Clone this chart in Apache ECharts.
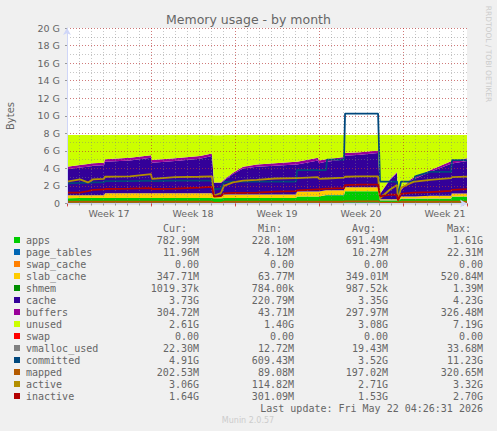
<!DOCTYPE html>
<html>
<head>
<meta charset="utf-8">
<script src="https://cdn.jsdelivr.net/npm/echarts@6/dist/echarts.min.js"></script>
<style>
  html, body { margin: 0; padding: 0; background: #F0F0F0; }
  #chart { width: 497px; height: 431px; }
</style>
</head>
<body>
<div id="chart"></div>
<script>
// time in days since Monday of week 17
const days = [0, 1.08, 1.75, 2.17, 3.08, 3.17, 5.25, 7.0, 7.08, 9.0, 11.08, 12.08, 12.25, 12.83, 13.08, 13.83, 14.67, 15.83, 17.33, 19.08, 19.17, 20.92, 21.0, 21.58, 21.67, 23.08, 23.17, 24.42, 25.92, 26.08, 26.92, 27.5, 27.58, 27.83, 28.58, 28.92, 29.0, 30.25, 32.0, 32.08, 33.33];
const weekLabels = ['Week 17', 'Week 18', 'Week 19', 'Week 20', 'Week 21'];
const yTickLabels = ['0', '2 G', '4 G', '6 G', '8 G', '10 G', '12 G', '14 G', '16 G', '18 G', '20 G'];

// values in GB
const apps = [0.60, 0.62, 0.62, 0.62, 0.62, 0.62, 0.62, 0.62, 0.62, 0.62, 0.62, 0.62, 0.60, 0.60, 0.62, 0.62, 0.62, 0.62, 0.62, 0.62, 0.80, 0.80, 0.80, 0.95, 0.95, 0.95, 1.40, 1.40, 1.40, 0.35, 0.35, 0.35, 0.25, 0.55, 0.55, 0.55, 0.55, 0.55, 0.55, 0.78, 0.78];
const pageTables = [0.01, 0.01, 0.01, 0.01, 0.01, 0.01, 0.01, 0.01, 0.01, 0.01, 0.01, 0.01, 0.01, 0.01, 0.01, 0.01, 0.01, 0.01, 0.01, 0.01, 0.01, 0.01, 0.01, 0.01, 0.01, 0.01, 0.01, 0.01, 0.01, 0.01, 0.01, 0.01, 0.01, 0.01, 0.01, 0.01, 0.01, 0.01, 0.01, 0.01, 0.01];
const swapCache = [0, 0, 0, 0, 0, 0, 0, 0, 0, 0, 0, 0, 0, 0, 0, 0, 0, 0, 0, 0, 0, 0, 0, 0, 0, 0, 0, 0, 0, 0, 0, 0, 0, 0, 0, 0, 0, 0, 0, 0, 0];
const slabCache = [0.32, 0.32, 0.32, 0.32, 0.32, 0.55, 0.55, 0.55, 0.55, 0.55, 0.55, 0.55, 0.15, 0.15, 0.40, 0.40, 0.40, 0.40, 0.40, 0.40, 0.55, 0.55, 0.55, 0.55, 0.55, 0.55, 0.45, 0.45, 0.45, 0.12, 0.12, 0.12, 0.08, 0.25, 0.25, 0.25, 0.25, 0.32, 0.32, 0.35, 0.35];
const shmem = [0.001, 0.001, 0.001, 0.001, 0.001, 0.001, 0.001, 0.001, 0.001, 0.001, 0.001, 0.001, 0.001, 0.001, 0.001, 0.001, 0.001, 0.001, 0.001, 0.001, 0.001, 0.001, 0.001, 0.001, 0.001, 0.001, 0.001, 0.001, 0.001, 0.001, 0.001, 0.001, 0.001, 0.001, 0.001, 0.001, 0.001, 0.001, 0.001, 0.001, 0.001];
const cache = [2.97, 3.15, 3.25, 3.35, 3.40, 3.57, 3.72, 4.02, 3.47, 3.67, 3.92, 4.22, 1.57, 1.57, 1.57, 2.32, 2.97, 3.17, 3.27, 3.42, 3.09, 3.54, 3.24, 3.24, 3.24, 3.49, 3.59, 3.69, 3.89, 0.57, 2.22, 2.97, 0.51, 0.71, 1.74, 2.01, 2.01, 2.70, 3.64, 3.43, 3.71];
const buffers = [0.30, 0.30, 0.30, 0.30, 0.30, 0.30, 0.30, 0.30, 0.30, 0.30, 0.30, 0.30, 0.05, 0.05, 0.10, 0.15, 0.20, 0.25, 0.30, 0.30, 0.30, 0.30, 0.30, 0.30, 0.30, 0.30, 0.30, 0.30, 0.30, 0.05, 0.10, 0.15, 0.05, 0.08, 0.15, 0.18, 0.18, 0.22, 0.28, 0.28, 0.30];
const unused = [3.60, 3.40, 3.30, 3.20, 3.15, 2.75, 2.60, 2.30, 2.85, 2.65, 2.40, 2.10, 5.40, 5.40, 5.10, 4.30, 3.60, 3.35, 3.20, 3.05, 3.05, 2.60, 2.90, 2.75, 2.75, 2.50, 2.05, 1.95, 1.75, 6.70, 5.00, 4.20, 6.90, 6.20, 5.10, 4.80, 4.80, 4.00, 3.00, 2.95, 2.65];
const swap = [0, 0, 0, 0, 0, 0, 0, 0, 0, 0, 0, 0, 0, 0, 0, 0, 0, 0, 0, 0, 0, 0, 0, 0, 0, 0, 0, 0, 0, 0, 0, 0, 0, 0, 0, 0, 0, 0, 0, 0, 0];
const vmallocUsed = [0.02, 0.02, 0.02, 0.02, 0.02, 0.02, 0.02, 0.02, 0.02, 0.02, 0.02, 0.02, 0.02, 0.02, 0.02, 0.02, 0.02, 0.02, 0.02, 0.02, 0.02, 0.02, 0.02, 0.02, 0.02, 0.02, 0.02, 0.02, 0.02, 0.02, 0.02, 0.02, 0.02, 0.02, 0.02, 0.02, 0.02, 0.02, 0.02, 0.02, 0.02];
const committed = [2.30, 2.35, 2.35, 2.40, 2.40, 2.55, 2.55, 2.60, 2.55, 2.60, 2.60, 2.60, 1.60, 1.70, 2.45, 2.50, 2.50, 2.50, 2.50, 2.50, 3.80, 3.80, 3.80, 3.80, 5.00, 5.00, 10.25, 10.25, 10.25, 2.50, 2.50, 2.50, 0.80, 2.50, 2.50, 2.50, 3.10, 3.60, 3.60, 4.95, 4.95];
const mapped = [0.20, 0.20, 0.20, 0.20, 0.20, 0.20, 0.20, 0.20, 0.20, 0.20, 0.20, 0.20, 0.10, 0.10, 0.20, 0.20, 0.20, 0.20, 0.20, 0.20, 0.20, 0.20, 0.20, 0.20, 0.20, 0.20, 0.25, 0.25, 0.25, 0.10, 0.10, 0.10, 0.10, 0.20, 0.20, 0.20, 0.20, 0.20, 0.20, 0.20, 0.20];
const active = [2.50, 2.75, 2.40, 2.75, 2.80, 3.05, 3.10, 3.35, 2.80, 3.00, 3.05, 3.10, 0.90, 1.20, 2.00, 2.40, 2.60, 2.70, 2.85, 2.90, 2.90, 3.00, 2.80, 2.85, 2.85, 2.95, 3.05, 3.10, 3.10, 0.60, 1.60, 2.10, 0.30, 1.80, 2.30, 2.50, 2.50, 2.70, 2.90, 3.00, 3.06];
const inactive = [1.25, 1.25, 1.40, 1.55, 1.60, 1.65, 1.70, 1.75, 1.65, 1.70, 1.80, 1.90, 0.80, 0.85, 1.15, 1.20, 1.20, 1.25, 1.35, 1.40, 1.50, 1.60, 1.60, 1.70, 1.70, 1.75, 2.10, 2.15, 2.15, 0.80, 1.00, 1.00, 0.35, 1.10, 1.20, 1.25, 1.25, 1.30, 1.45, 1.55, 1.64];

// legend table
const legendNames = ['apps', 'page_tables', 'swap_cache', 'slab_cache', 'shmem', 'cache', 'buffers', 'unused', 'swap', 'vmalloc_used', 'committed', 'mapped', 'active', 'inactive'];
const legendColors = ['#00CC00', '#0066B3', '#FF8000', '#FFCC00', '#008F00', '#330099', '#990099', '#CCFF00', '#FF0000', '#808080', '#00487D', '#B35A00', '#B38F00', '#B30000'];
const curVals = ['782.99M', '11.96M', '0.00', '347.71M', '1019.37k', '3.73G', '304.72M', '2.61G', '0.00', '22.30M', '4.91G', '202.53M', '3.06G', '1.64G'];
const minVals = ['228.10M', '4.12M', '0.00', '63.77M', '784.00k', '220.79M', '43.71M', '1.40G', '0.00', '12.72M', '609.43M', '89.08M', '114.82M', '301.09M'];
const avgVals = ['691.49M', '10.27M', '0.00', '349.01M', '987.52k', '3.35G', '297.97M', '3.08G', '0.00', '19.43M', '3.52G', '197.02M', '2.71G', '1.53G'];
const maxVals = ['1.61G', '22.31M', '0.00', '520.84M', '1.39M', '4.23G', '326.48M', '7.19G', '0.00', '33.68M', '11.23G', '320.65M', '3.32G', '2.70G'];

const areaData = [apps, pageTables, swapCache, slabCache, shmem, cache, buffers, unused, swap];
const lineData = [vmallocUsed, committed, mapped, active, inactive];

const DAY = 86400000;
const SPAN = 33.33;

const chart = echarts.init(document.getElementById('chart'), null, { renderer: 'svg' });

const FONT = "'DejaVu Sans', sans-serif";
const MONO = "'DejaVu Sans Mono', monospace";
const TXT = '#666666';
const AXIS = '#CFD6F8';
const GRIDC = 'rgba(128,128,128,0.45)';
const MGRIDC = 'rgba(225,0,0,0.38)';

// series sit on a hidden time axis so that the y values (not x) get stacked
const toPoints = vals => days.map((d, k) => [d * DAY, vals[k]]);

const series = [];
areaData.forEach((vals, i) => {
  series.push({
    name: legendNames[i],
    type: 'line',
    stack: 'mem',
    xAxisIndex: 3,
    yAxisIndex: 1,
    data: toPoints(vals),
    symbol: 'none',
    silent: true,
    lineStyle: { width: 0 },
    itemStyle: { color: legendColors[i] },
    areaStyle: { color: legendColors[i], opacity: 1 },
    z: 1
  });
});
lineData.forEach((vals, j) => {
  const i = areaData.length + j;
  series.push({
    name: legendNames[i],
    type: 'line',
    xAxisIndex: 3,
    yAxisIndex: 1,
    data: toPoints(vals),
    symbol: 'none',
    silent: true,
    lineStyle: { width: 1.8, color: legendColors[i] },
    itemStyle: { color: legendColors[i] },
    z: 2
  });
});

// legend graphics
const graphics = [];
const rowY0 = 240, rowH = 12;
const colEnds = [199, 294, 388, 483];
const headers = ['Cur:', 'Min:', 'Avg:', 'Max:'];
headers.forEach((h, c) => {
  graphics.push({ type: 'text', x: colEnds[c] - 36, y: 228, silent: true,
    style: { text: h, font: '10px ' + MONO, fill: TXT, align: 'left', verticalAlign: 'middle' } });
});
legendNames.forEach((name, i) => {
  const y = rowY0 + i * rowH;
  graphics.push({ type: 'rect', silent: true, shape: { x: 14, y: y - 3, width: 6, height: 6 }, style: { fill: legendColors[i] } });
  graphics.push({ type: 'text', x: 26, y: y, silent: true,
    style: { text: name, font: '10px ' + MONO, fill: TXT, align: 'left', verticalAlign: 'middle' } });
  [curVals, minVals, avgVals, maxVals].forEach((col, c) => {
    graphics.push({ type: 'text', x: colEnds[c], y: y, silent: true,
      style: { text: col[i], font: '10px ' + MONO, fill: TXT, align: 'right', verticalAlign: 'middle' } });
  });
});
graphics.push({ type: 'text', x: 483, y: 408, silent: true,
  style: { text: 'Last update: Fri May 22 04:26:31 2026', font: '10px ' + MONO, fill: TXT, align: 'right', verticalAlign: 'middle' } });
graphics.push({ type: 'text', x: 248, y: 420, silent: true,
  style: { text: 'Munin 2.0.57', font: '8px ' + FONT, fill: '#cccccc', align: 'center', verticalAlign: 'middle' } });
graphics.push({ type: 'text', x: 488, y: 54, rotation: -Math.PI / 2, silent: true,
  style: { text: 'RRDTOOL / TOBI OETIKER', font: '7.5px ' + FONT, fill: '#cccccc', align: 'center', verticalAlign: 'middle' } });
graphics.push({ type: 'text', x: 10, y: 116, rotation: Math.PI / 2, silent: true,
  style: { text: 'Bytes', font: '10px ' + FONT, fill: TXT, align: 'center', verticalAlign: 'middle' } });

const option = {
  backgroundColor: '#F0F0F0',
  animation: false,
  title: {
    text: 'Memory usage - by month',
    left: 'center',
    top: 13,
    padding: 0,
    textStyle: { fontFamily: FONT, fontSize: 12.5, fontWeight: 'normal', color: TXT }
  },
  grid: { left: 67, top: 28, width: 400, height: 175.5, backgroundColor: '#FFFFFF', show: true, borderWidth: 0 },
  xAxis: [
    {
      // daily grid
      type: 'value', position: 'bottom', min: 0, max: SPAN, interval: 1, z: 3,
      axisLine: { show: true, onZero: false, lineStyle: { color: AXIS, width: 1 }, symbol: ['none', 'arrow'], symbolSize: [6, 7] },
      axisTick: { show: true, length: 2, lineStyle: { color: '#999999' } },
      axisLabel: { show: false },
      splitLine: { show: true, showMinLine: false, showMaxLine: false, lineStyle: { color: GRIDC, type: [1, 2], width: 1 } }
    },
    {
      // weekly grid
      type: 'value', position: 'bottom', min: 0, max: SPAN, interval: 7, z: 4,
      axisLine: { show: false },
      axisTick: { show: true, length: 3, lineStyle: { color: 'rgba(225,0,0,0.6)' } },
      axisLabel: { show: false },
      splitLine: { show: true, showMinLine: false, showMaxLine: false, lineStyle: { color: MGRIDC, type: [1, 2], width: 1 } }
    },
    {
      // week labels centred in each week
      type: 'value', position: 'bottom', min: 0, max: SPAN, interval: 3.5, z: 4,
      axisLine: { show: false }, axisTick: { show: false }, splitLine: { show: false },
      axisLabel: {
        show: true, margin: 5, color: TXT, fontFamily: FONT, fontSize: 9.5,
        showMinLabel: false, showMaxLabel: false,
        formatter: v => (Math.round(v / 3.5) % 2 === 1 ? weekLabels[Math.floor(v / 7)] : '')
      }
    },
    {
      // data axis
      type: 'time', position: 'bottom', min: 0, max: SPAN * DAY, show: false
    }
  ],
  yAxis: [
    {
      type: 'value', position: 'left', min: 0, max: 20, interval: 1, z: 3,
      axisLine: { show: false }, axisTick: { show: false }, axisLabel: { show: false },
      splitLine: { show: true, showMinLine: false, lineStyle: { color: GRIDC, type: [1, 2], width: 1 } }
    },
    {
      type: 'value', position: 'left', min: 0, max: 20, interval: 2, z: 4,
      axisLine: { show: true, onZero: false, lineStyle: { color: AXIS, width: 1 }, symbol: ['none', 'arrow'], symbolSize: [6, 7] },
      axisTick: { show: true, length: 2, lineStyle: { color: '#999999' } },
      axisLabel: {
        show: true, margin: 7, color: TXT, fontFamily: FONT, fontSize: 9.5,
        formatter: v => yTickLabels[Math.round(v / 2)]
      },
      splitLine: { show: true, showMinLine: false, lineStyle: { color: MGRIDC, type: [1, 2], width: 1 } }
    }
  ],
  series: series,
  graphic: graphics
};

chart.setOption(option);
</script>
</body>
</html>
